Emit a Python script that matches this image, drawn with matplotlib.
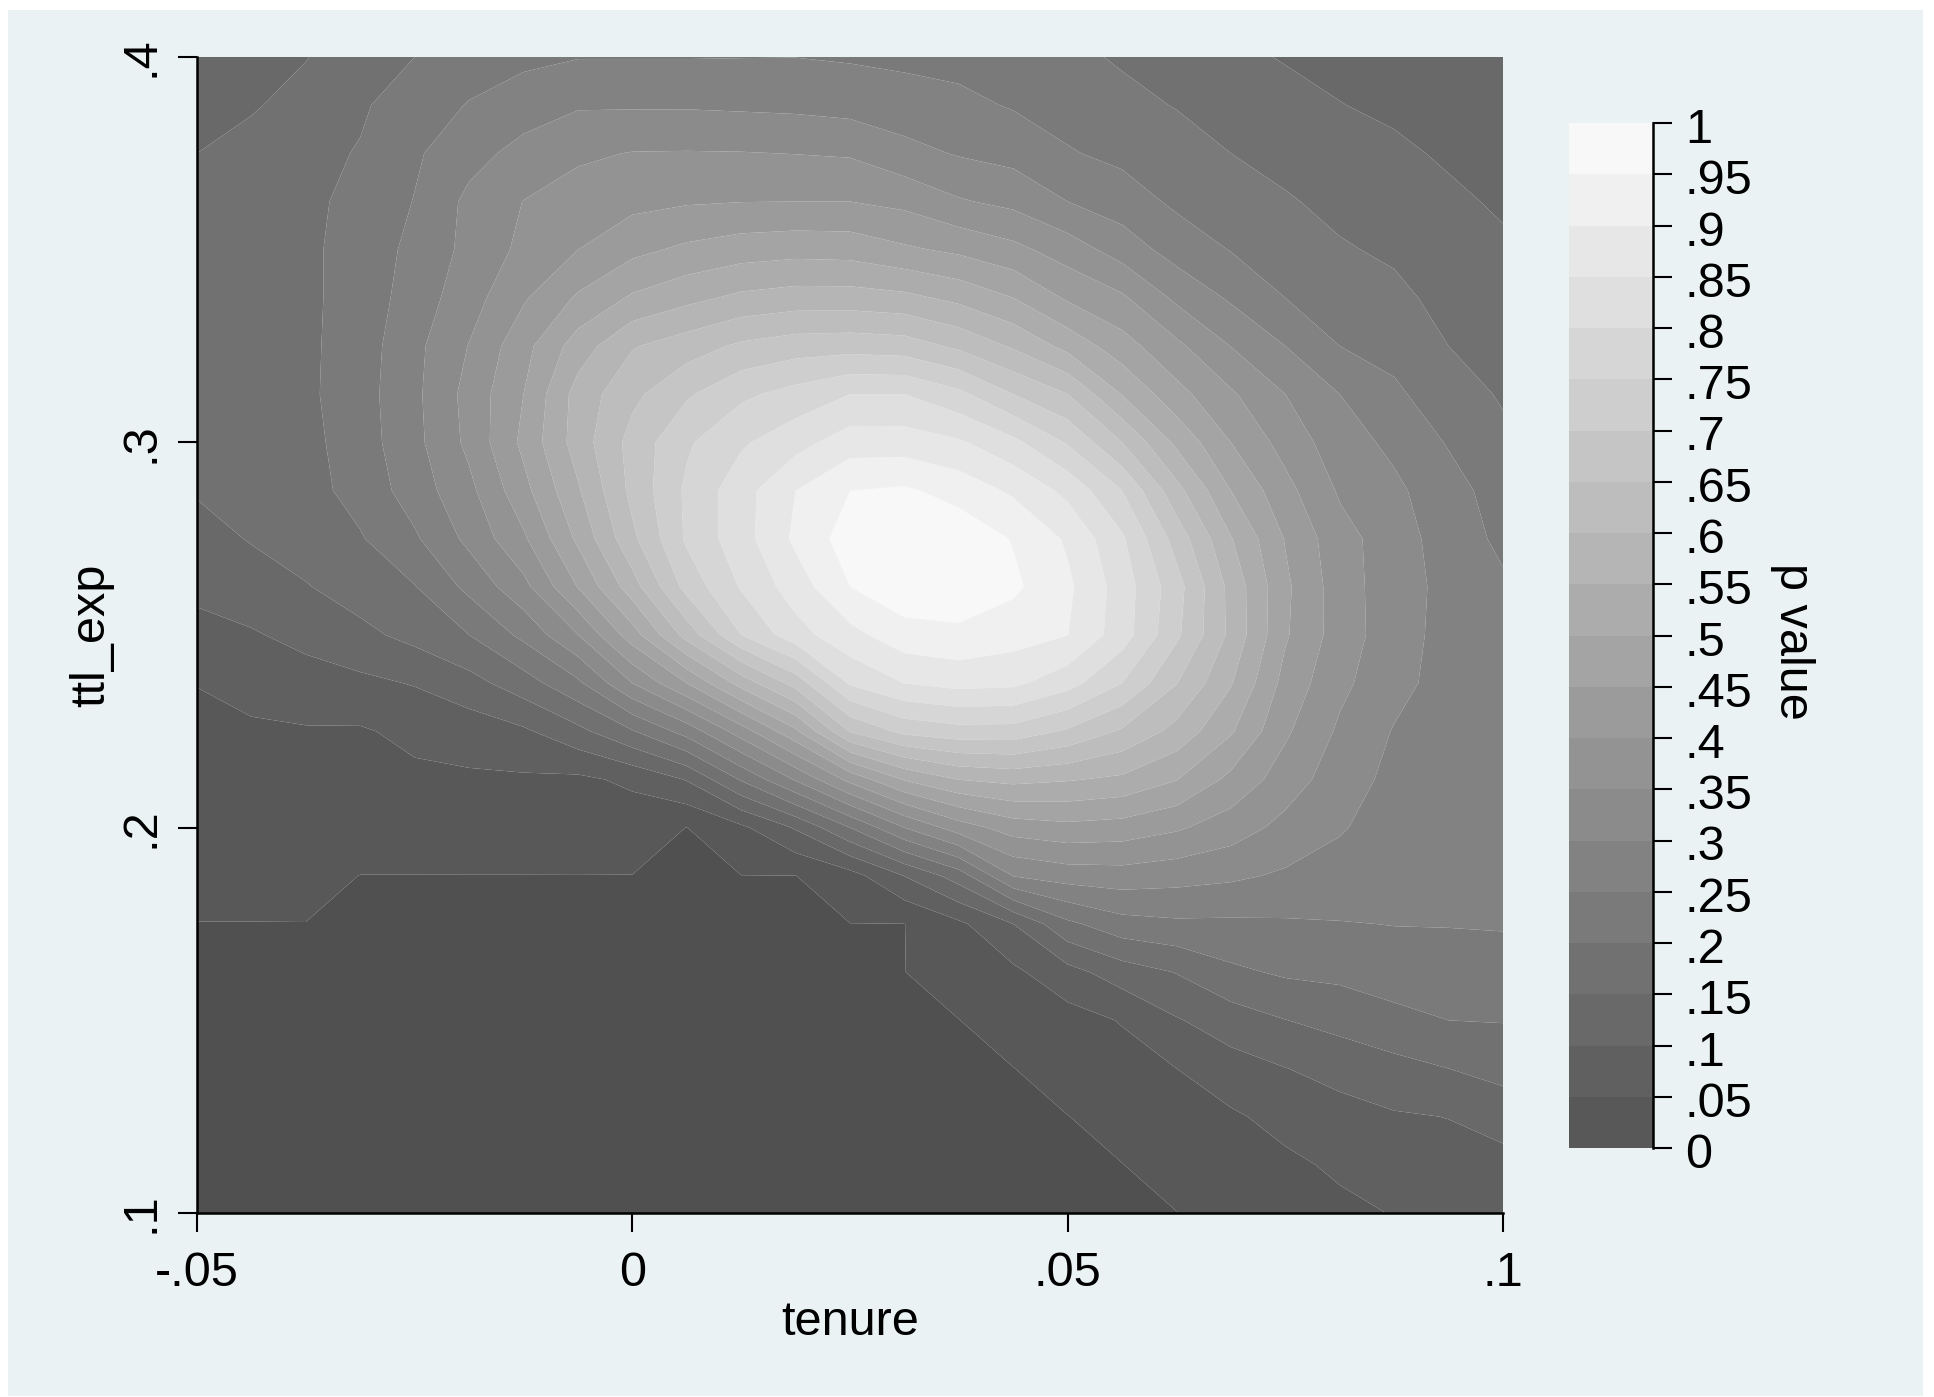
import matplotlib
matplotlib.use("Agg")
import matplotlib.pyplot as plt
from matplotlib.patches import Rectangle
from matplotlib.transforms import ScaledTranslation
import numpy as np

plt.rcParams['font.family'] = ['Liberation Sans', 'DejaVu Sans']

tenure = [-.05, -.04375, -.0375, -.03125, -.025, -.01875, -.0125, -.00625, 0, .00625, .0125, .01875, .025,
          .03125, .0375, .04375, .05, .05625, .0625, .06875, .075, .08125, .0875, .09375, .1]
ttl_exp = [.1, .1125, .125, .1375, .15, .1625, .175, .1875, .2, .2125, .225, .2375, .25,
           .2625, .275, .2875, .3, .3125, .325, .3375, .35, .3625, .375, .3875, .4]

# one row per ttl_exp value, bottom row first
p_value = [
    [0, 0, 0, 0, 0, 0, 0, 0, 0, 0, 0, 0, 0, 0, 0, 0, 0, 0, 0, .0135, .026, .039, .052, .062, .07],
    [0, 0, 0, 0, 0, 0, 0, 0, 0, 0, 0, 0, 0, 0, 0, 0, 0, 0, .013, .027, .04, .058, .076, .083, .085],
    [0, 0, 0, 0, 0, 0, 0, 0, 0, 0, 0, 0, 0, 0, 0, 0, 0, .012, .025, .043, .066, .083, .095, .101, .119],
    [0, 0, 0, 0, 0, 0, 0, 0, 0, 0, 0, 0, 0, 0, 0, 0, .015, .03, .05, .08, .099, .116, .135, .15, .168],
    [0, 0, 0, 0, 0, 0, 0, 0, 0, 0, 0, 0, 0, 0, 0, .018, .03, .053, .096, .125, .149, .167, .183, .20, .202],
    [0, 0, 0, 0, 0, 0, 0, 0, 0, 0, 0, 0, 0, 0, .02, .04, .083, .125, .152, .19, .207, .212, .229, .227, .228],
    [0, 0, 0, 0, 0, 0, 0, 0, 0, 0, 0, 0, 0, 0, .04, .10, .189, .231, .241, .241, .244, .248, .251, .252, .254],
    [.01, .01, .012, 0, 0, 0, 0, 0, 0, 0, 0, 0, .03, .101, .174, .302, .323, .328, .319, .309, .293, .278, .262, .26, .26],
    [.02, .02, .025, .02, .02, .022, .022, .025, .02, 0, .04, .105, .20, .30, .375, .423, .436, .429, .407, .375, .335, .305, .275, .268, .265],
    [.03, .03, .035, .035, .04, .043, .043, .04, .06, .103, .205, .305, .415, .504, .551, .564, .554, .54, .502, .437, .376, .323, .287, .272, .268],
    [.04, .043, .046, .045, .062, .072, .092, .136, .196, .27, .375, .49, .653, .714, .731, .73, .693, .643, .584, .506, .408, .342, .297, .277, .27],
    [.051, .066, .078, .089, .103, .132, .177, .24, .35, .45, .57, .67, .807, .851, .867, .861, .82, .75, .652, .554, .433, .362, .316, .28, .27],
    [.085, .095, .115, .137, .165, .20, .262, .349, .477, .62, .75, .83, .885, .93, .937, .921, .901, .824, .71, .588, .456, .376, .322, .283, .268],
    [.111, .129, .147, .173, .198, .263, .335, .452, .578, .718, .805, .875, .95, .985, .99, .96, .91, .827, .72, .585, .46, .374, .322, .286, .257],
    [.133, .153, .174, .196, .243, .313, .392, .51, .639, .758, .83, .91, .975, .995, .985, .947, .893, .808, .68, .553, .447, .368, .325, .275, .24],
    [.154, .168, .183, .217, .274, .337, .434, .544, .664, .759, .83, .90, .95, .958, .931, .892, .837, .75, .617, .50, .416, .344, .31, .27, .2265],
    [.165, .172, .185, .226, .286, .362, .462, .573, .668, .743, .793, .832, .876, .875, .857, .813, .745, .65, .539, .45, .381, .322, .289, .246, .21],
    [.172, .178, .19, .229, .289, .367, .45, .57, .638, .693, .74, .768, .80, .80, .763, .70, .65, .548, .467, .407, .35, .30, .259, .222, .195],
    [.175, .18, .19, .225, .287, .352, .433, .524, .596, .626, .659, .676, .68, .674, .64, .593, .534, .471, .411, .349, .30, .25, .234, .20, .182],
    [.172, .178, .19, .221, .273, .329, .394, .457, .507, .536, .561, .572, .572, .563, .537, .50, .443, .408, .34, .293, .25, .228, .212, .185, .169],
    [.168, .178, .19, .221, .263, .314, .362, .40, .437, .46, .476, .483, .48, .458, .44, .414, .376, .328, .279, .248, .227, .205, .192, .171, .156],
    [.162, .175, .19, .213, .252, .312, .351, .371, .386, .395, .399, .40, .40, .387, .355, .337, .30, .274, .241, .224, .205, .187, .175, .157, .145],
    [.15, .168, .187, .203, .243, .283, .316, .342, .352, .353, .352, .349, .345, .316, .296, .283, .254, .238, .219, .20, .184, .169, .157, .145, .138],
    [.13, .145, .168, .194, .224, .253, .2765, .295, .295, .295, .292, .289, .282, .271, .262, .246, .231, .212, .198, .18, .165, .151, .143, .135, .129],
    [.125, .135, .148, .18, .20, .225, .238, .248, .248, .248, .249, .2495, .245, .24, .235, .225, .21, .195, .18, .16, .147, .14, .13, .125, .12],
]

bar_levels = [0, .05, .1, .15, .2, .25, .3, .35, .4, .45, .5, .55, .6, .65, .7, .75, .8, .85, .9, .95, 1]
bar_labels = ['0', '.05', '.1', '.15', '.2', '.25', '.3', '.35', '.4', '.45', '.5', '.55', '.6', '.65', '.7',
              '.75', '.8', '.85', '.9', '.95', '1']
band_greys = [88, 96, 105, 113, 122, 130, 139, 147, 155, 164, 172, 181, 189, 197, 206, 214, 223, 231, 240, 248]
zero_grey = 80

W, H = 1934, 1397
fig = plt.figure(figsize=(W / 100, H / 100), dpi=100, facecolor='white')
fig.add_artist(Rectangle((8 / W, 1 - 1396 / H), (1923 - 8) / W, (1396 - 10) / H, transform=fig.transFigure,
                         facecolor='#eaf2f3', edgecolor='none', zorder=-5))


def grey(v):
    return '#%02x%02x%02x' % (v, v, v)


# main contour plot, exact zeros get their own darker fill
ax = fig.add_axes([197 / W, 1 - 1213 / H, (1503 - 197) / W, (1213 - 57) / H])
ax.patch.set_alpha(0)
levels = [-1, .0005] + bar_levels[1:]
colors = [grey(zero_grey)] + [grey(v) for v in band_greys]
ax.contourf(tenure, ttl_exp, np.array(p_value), levels=levels, colors=colors, antialiased=True)
ax.set_xlim(-.05, .1)
ax.set_ylim(.1, .4)
ax.set_xticks([-.05, 0, .05, .1])
ax.set_xticklabels(['-.05', '0', '.05', '.1'])
ax.set_yticks([.1, .2, .3, .4])
ax.set_yticklabels(['.1', '.2', '.3', '.4'], rotation=90, va='center')
ax.tick_params(labelsize=35, length=14, width=1.5, pad=10, color='black')
ax.tick_params(axis='x', pad=13)
ax.spines['top'].set_visible(False)
ax.spines['right'].set_visible(False)
ax.spines['left'].set_linewidth(1.8)
ax.spines['bottom'].set_linewidth(1.8)
ax.set_xlabel('tenure', fontsize=35, labelpad=3)
ax.set_ylabel('ttl_exp', fontsize=35, labelpad=3)

# colour legend on the right
cax = fig.add_axes([1569 / W, 1 - 1148 / H, (1653 - 1569) / W, (1148 - 123) / H])
cax.patch.set_alpha(0)
for k in range(len(band_greys)):
    cax.barh(bar_levels[k], 1, height=bar_levels[k + 1] - bar_levels[k], align='edge', color=grey(band_greys[k]))
cax.set_xlim(0, 1)
cax.set_ylim(0, 1)
cax.set_xticks([])
cax.yaxis.tick_right()
cax.set_yticks(bar_levels)
cax.set_yticklabels(bar_labels)
cax.tick_params(labelsize=35, length=14, width=1.5, pad=9)
nudge = ScaledTranslation(0, -2.5 / 100, fig.dpi_scale_trans)
for lab in cax.get_yticklabels():
    lab.set_transform(lab.get_transform() + nudge)
for side in ['top', 'left', 'bottom']:
    cax.spines[side].set_visible(False)
cax.spines['right'].set_linewidth(1.8)
fig.text(1792 / W, 1 - 641 / H, 'p value', fontsize=35, rotation=270, ha='center', va='center')

fig.savefig('out.png', dpi=100, facecolor='white')
